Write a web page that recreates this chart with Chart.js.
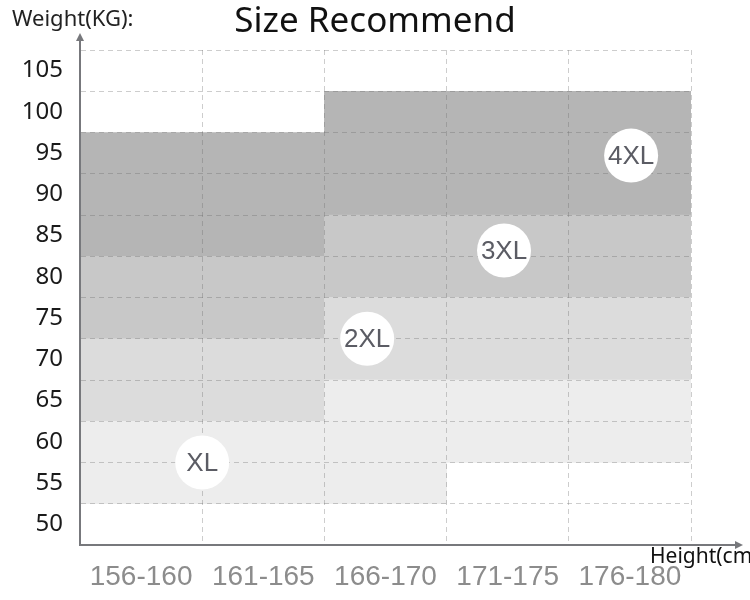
<!DOCTYPE html>
<html>
<head>
<meta charset="utf-8">
<title>Size Recommend</title>
<script src="https://cdn.jsdelivr.net/npm/chart.js"></script>
<style>
  body { margin: 0; background: #fff; }
</style>
</head>
<body>
<canvas id="sizeChart" width="750" height="600"></canvas>
<script>
const heightLabels = ['156-160', '161-165', '166-170', '171-175', '176-180'];
const weightLabels = [50, 55, 60, 65, 70, 75, 80, 85, 90, 95, 100, 105];
const sizeNames = ['XL', '2XL', '3XL', '4XL'];

// weight rows covered by each size in each height column: [lowest, highest]
const xlRows  = [[55, 60], [55, 60], [55, 65], [60, 65], [60, 65]];
const xxlRows = [[65, 70], [65, 70], [70, 75], [70, 75], [70, 75]];
const x3lRows = [[75, 80], [75, 80], [80, 85], [80, 85], [80, 85]];
const x4lRows = [[85, 95], [85, 95], [90, 100], [90, 100], [90, 100]];

// where the size badges sit: column index, weight
const badgeCol = [0.5, 1.85, 2.97, 4.01];
const badgeWeight = [57.5, 72.5, 83.2, 94.7];

const sizeColors = ['#ededed', '#dcdcdc', '#c8c8c8', '#b5b5b5'];
const gridColor = 'rgba(100, 100, 100, 0.32)';
const axisColor = '#77787c';

function toBars(rows) {
    // a row labelled w spans w-2.5 .. w+2.5
    return rows.map(r => [r[0] - 2.5, r[1] + 2.5]);
}

function sizeDataset(i, rows) {
    return {
        type: 'bar',
        label: sizeNames[i],
        data: toBars(rows),
        backgroundColor: sizeColors[i],
        borderWidth: 0,
        barPercentage: 1,
        categoryPercentage: 1,
        grouped: false
    };
}

let yTickValues = [];
for (let i = 0; i <= 2 * weightLabels.length; i++)
    yTickValues.push(weightLabels[0] - 2.5 + i * 2.5);

const decorations = {
    id: 'decorations',
    afterDraw(chart) {
        const ctx = chart.ctx;
        const a = chart.chartArea;
        ctx.save();

        // axis arrows
        ctx.strokeStyle = axisColor;
        ctx.fillStyle = axisColor;
        ctx.lineWidth = 2;
        ctx.beginPath();
        ctx.moveTo(a.left, a.top + 1);
        ctx.lineTo(a.left, a.top - 12);
        ctx.moveTo(a.right - 1, a.bottom);
        ctx.lineTo(a.right + 45, a.bottom);
        ctx.stroke();
        ctx.beginPath();
        ctx.moveTo(a.left, a.top - 17);
        ctx.lineTo(a.left - 4, a.top - 9);
        ctx.lineTo(a.left + 4, a.top - 9);
        ctx.closePath();
        ctx.fill();
        ctx.beginPath();
        ctx.moveTo(a.right + 52, a.bottom);
        ctx.lineTo(a.right + 44, a.bottom - 4);
        ctx.lineTo(a.right + 44, a.bottom + 4);
        ctx.closePath();
        ctx.fill();

        // badges go above the dashed grid
        const meta = chart.getDatasetMeta(4);
        meta.data.forEach((pt, i) => {
            pt.draw(ctx, a);
            ctx.fillStyle = '#5b5c64';
            ctx.font = '26px "Liberation Sans", Arial, sans-serif';
            ctx.textAlign = 'center';
            ctx.textBaseline = 'middle';
            ctx.fillText(sizeNames[i], pt.x, pt.y + 1);
        });

        // title and axis captions
        ctx.fillStyle = '#111';
        ctx.textAlign = 'center';
        ctx.textBaseline = 'middle';
        ctx.font = '35px "Noto Sans", sans-serif';
        ctx.fillText('Size Recommend', 375, 22);

        ctx.fillStyle = '#222';
        ctx.textAlign = 'left';
        ctx.font = '22px "Noto Sans", sans-serif';
        ctx.fillText('Weight(KG):', 12, 20);
        ctx.fillStyle = '#111';
        ctx.font = '21px "Noto Sans", sans-serif';
        ctx.fillText('Height(cm)', 650, 557);
        ctx.restore();
    }
};

const config = {
    data: {
        labels: heightLabels,
        datasets: [
            sizeDataset(0, xlRows),
            sizeDataset(1, xxlRows),
            sizeDataset(2, x3lRows),
            sizeDataset(3, x4lRows),
            {
                type: 'scatter',
                label: 'badges',
                xAxisID: 'x2',
                data: badgeCol.map((c, i) => ({x: c, y: badgeWeight[i]})),
                pointRadius: 27,
                pointHoverRadius: 27,
                pointBackgroundColor: '#ffffff',
                pointBorderWidth: 0
            }
        ]
    },
    options: {
        responsive: false,
        animation: false,
        events: [],
        layout: {padding: {left: 0, right: 59, top: 50, bottom: 0}},
        plugins: {
            legend: {display: false},
            tooltip: {enabled: false},
            title: {display: false}
        },
        scales: {
            x: {
                type: 'category',
                offset: true,
                grid: {
                    offset: true,
                    drawTicks: false,
                    z: 1,
                    color: (c) => c.index === 0 ? 'rgba(0,0,0,0)' : gridColor
                },
                border: {display: true, color: axisColor, width: 2, dash: [5, 4], z: 1},
                ticks: {
                    color: '#8c8c8c',
                    padding: 15,
                    font: {family: '"Liberation Sans", Arial, sans-serif', size: 28}
                },
                afterFit: (s) => { s.height = 55; }
            },
            x2: {
                type: 'linear',
                display: false,
                min: -0.5,
                max: heightLabels.length - 0.5
            },
            y: {
                type: 'linear',
                min: weightLabels[0] - 2.5,
                max: weightLabels[weightLabels.length - 1] + 2.5,
                afterBuildTicks: (s) => {
                    s.ticks = yTickValues.map(v => ({value: v}));
                },
                grid: {
                    drawTicks: false,
                    z: 1,
                    color: (c) => {
                        const v = c.tick ? c.tick.value : 0;
                        if (v === yTickValues[0] || (v - yTickValues[0]) % 5 !== 0)
                            return 'rgba(0,0,0,0)';
                        return gridColor;
                    }
                },
                border: {display: true, color: axisColor, width: 2, dash: [5, 4], z: 1},
                ticks: {
                    autoSkip: false,
                    color: '#1a1a1a',
                    padding: 17,
                    font: {family: '"Noto Sans", sans-serif', size: 24},
                    callback: (v) => weightLabels.includes(v) ? String(v) : ''
                },
                afterFit: (s) => { s.width = 80; }
            }
        }
    },
    plugins: [decorations]
};

new Chart(document.getElementById('sizeChart').getContext('2d'), config);
</script>
</body>
</html>
